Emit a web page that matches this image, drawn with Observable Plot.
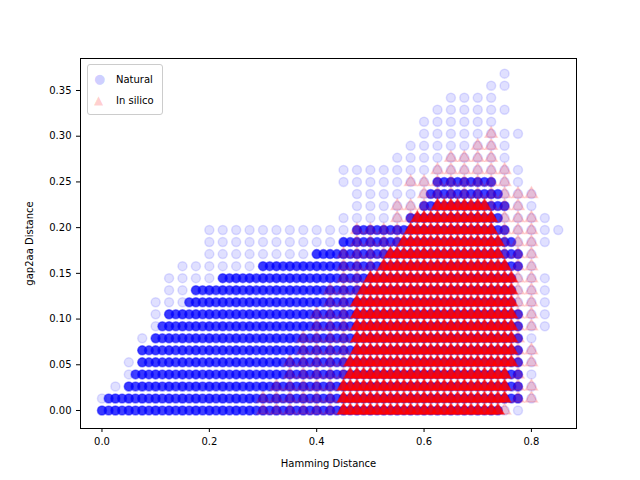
<!DOCTYPE html>
<html><head>
<script src="https://cdn.jsdelivr.net/npm/d3@7"></script>
<script src="https://cdn.jsdelivr.net/npm/@observablehq/plot@0.6"></script>
<style>body{margin:0;font-family:"DejaVu Sans",sans-serif;background:#fff}#chart{position:relative;width:640px;height:480px}
#legend{position:absolute;left:87px;top:64px;border:1px solid #ccc;border-radius:3px;background:rgba(255,255,255,.8);font-size:10px;padding:3px 8px 3px 6px;line-height:21px}
#legend span{display:inline-block;width:22px}</style>
</head><body><div id="chart"><div id="legend">
<div><span style="color:rgba(0,0,255,.2);font-size:13px">●</span>Natural</div>
<div><span style="color:rgba(255,0,0,.2);font-size:12px">▲</span>In silico</div></div></div>
<script>
// one entry per gap2aa level (k/76): ranges
const rowStep = 1 / 76
const xStep = 0.0125
const natAllMin = [0,.01,.03,.04,.05,.07,.08,.09,.10,.11,.12,.13,.15,.20,.21,.20,.45,.47,.47,.46,.46,.56,.58,.60,.61,.62,.65,.72,.74]
const natAllMax = [.78,.79,.80,.80,.80,.81,.81,.82,.82,.82,.83,.82,.81,.80,.82,.85,.82,.80,.79,.77,.78,.76,.76,.78,.73,.75,.72,.76,.74]
const natCoreMin = [0,.01,.05,.06,.07,.08,.10,.11,.13,.16,.18,.22,.30,.40,.45,.47,.57,.60,.61,.62]
const natCoreMax = [.74,.78,.78,.78,.78,.78,.78,.78,.78,.76,.76,.76,.78,.77,.76,.75,.74,.75,.74,.73]
const silMin = [.30,.31,.33,.34,.36,.37,.38,.40,.41,.42,.43,.44,.45,.46,.47,.48,.55,.56,.59,.58,.62,.65,.69,.72]
const silMax = [.75,.79,.79,.78,.79,.79,.78,.79,.79,.79,.79,.79,.79,.79,.79,.80,.79,.77,.79,.76,.76,.73,.73,.72]
const silCoreMin = [.45,.45,.45,.46,.46,.47,.47,.47,.48,.48,.49,.50,.52,.54,.56,.57,.59,.62]
const silCoreMax = [.74,.75,.75,.75,.76,.76,.76,.76,.76,.76,.76,.76,.75,.74,.74,.73,.72,.71]

function expand(mins, maxs, step) {
  const out = []
  mins.forEach((m, k) => {
    for (let i = Math.round(m / step); i <= Math.round(maxs[k] / step); i++)
      out.push({x: i * step, y: k * rowStep})
  })
  return out
}
const natAll = expand(natAllMin, natAllMax, 2 * xStep)
const natCore = expand(natCoreMin, natCoreMax, xStep)
const sil = expand(silMin, silMax, 2 * xStep)
const silCore = expand(silCoreMin, silCoreMax, xStep)

let chart = Plot.plot({
  width: 640, height: 480,
  marginLeft: 80, marginRight: 64, marginTop: 58, marginBottom: 52,
  style: {fontFamily: "DejaVu Sans", fontSize: "10px", color: "#000"},
  x: {domain: [-0.04, 0.884], ticks: [0, .2, .4, .6, .8], tickFormat: ".1f", label: "Hamming Distance", labelAnchor: "center", labelArrow: "none", labelOffset: 38, tickSize: 4},
  y: {domain: [-0.0197, 0.385], ticks: d3.range(0, 0.36, 0.05), tickFormat: ".2f", label: "gap2aa Distance", labelAnchor: "center", labelArrow: "none", labelOffset: 55, tickSize: 4},
  marks: [
    Plot.dot(natAll, {x: "x", y: "y", r: 4.5, fill: "blue", fillOpacity: 0.12, stroke: "blue", strokeOpacity: 0.12}),
    Plot.dot(natCore, {x: "x", y: "y", r: 4.5, fill: "blue", fillOpacity: 0.75, stroke: "blue", strokeOpacity: 0.4}),
    Plot.dot(sil, {x: "x", y: "y", r: 4.5, symbol: "triangle", fill: "red", fillOpacity: 0.15, stroke: "red", strokeOpacity: 0.15}),
    Plot.dot(silCore, {x: "x", y: "y", r: 4.5, symbol: "triangle", fill: "red", fillOpacity: 0.85, stroke: "red", strokeOpacity: 0.5}),
    Plot.frame({stroke: "#000"})
  ]
})
d3.select('#chart').append(() => chart)
</script></body></html>
